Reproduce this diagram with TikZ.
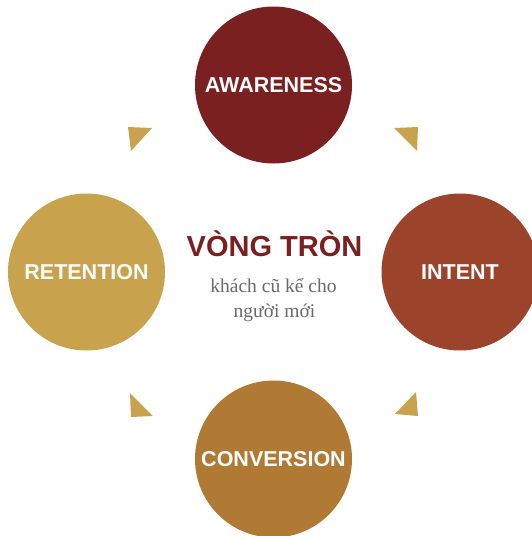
\documentclass[tikz,border=0pt]{standalone}
\usepackage{fontspec}
\setmainfont{Liberation Serif}
\setsansfont{Liberation Sans}
\definecolor{cAware}{HTML}{7B2021}
\definecolor{cIntent}{HTML}{9C442B}
\definecolor{cConv}{HTML}{B07A35}
\definecolor{cRet}{HTML}{C9A24E}
\definecolor{cTri}{HTML}{C9A24E}
\definecolor{cGray}{HTML}{6A6A6A}
\begin{document}
\begin{tikzpicture}[x=1pt,y=-1pt,
  stage/.style={circle,inner sep=0pt,minimum size=157pt,text=white,
    font=\sffamily\bfseries\fontsize{21.5}{21.5}\selectfont},
  tri/.style={fill=cTri,draw=none}]
\useasboundingbox (0,0) rectangle (531,536);
\node[stage,fill=cAware]  (aw) at (273.5,85)  {AWARENESS};
\node[stage,fill=cIntent] (in) at (460,272)   {INTENT};
\node[stage,fill=cConv]   (co) at (273.5,459) {CONVERSION};
\node[stage,fill=cRet]    (re) at (86.5,272)  {RETENTION};
\node[anchor=base,text=cAware,font=\sffamily\bfseries\fontsize{29}{29}\selectfont,inner sep=0pt] (title) at (274.5,256) {VÒNG TRÒN};
\node[anchor=base,text=cGray,font=\fontsize{19.5}{19.5}\selectfont,inner sep=0pt] (sub1) at (273.5,292) {khách cũ kể cho};
\node[anchor=base,text=cGray,font=\fontsize{19.5}{19.5}\selectfont,inner sep=0pt] (sub2) at (274.5,317) {người mới};
\fill[tri] (128,127) -- (152,128) -- (131,151) -- cycle;
\fill[tri] (394,128) -- (418,127) -- (417,151) -- cycle;
\fill[tri] (130,393) -- (131,417) -- (153,416) -- cycle;
\fill[tri] (416,392) -- (418,416) -- (395,414) -- cycle;
\end{tikzpicture}
\end{document}
